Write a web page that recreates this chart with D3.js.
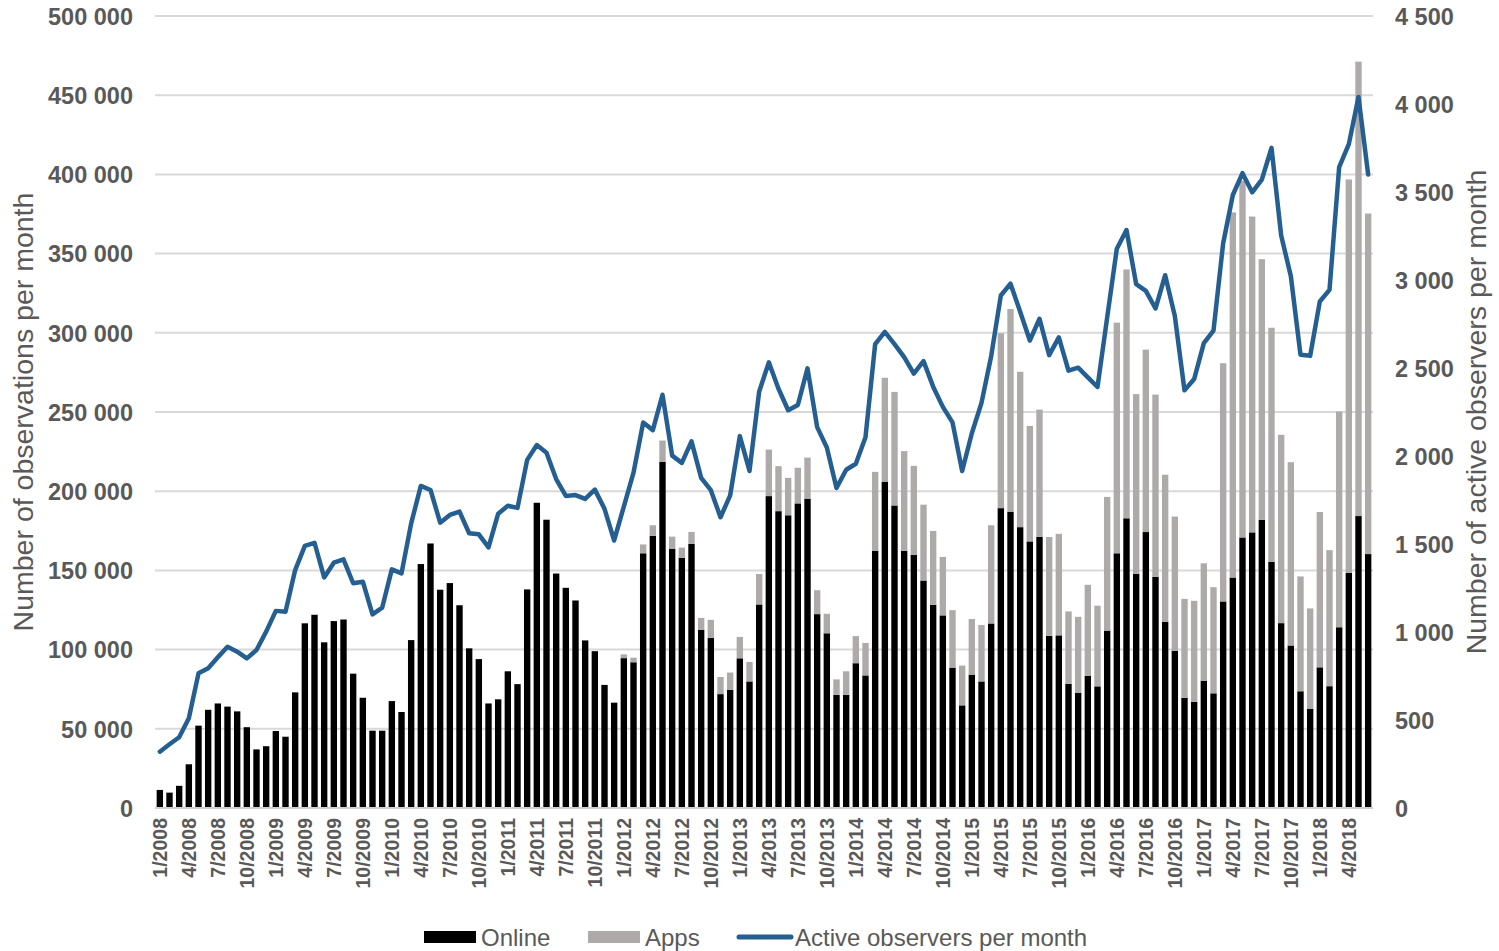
<!DOCTYPE html>
<html>
<head>
<meta charset="utf-8">
<script src="https://cdn.jsdelivr.net/npm/d3@7"></script>
<style>
  body { margin: 0; background: #fff; }
  svg { display: block; font-family: "Liberation Sans", Arial, sans-serif; }
</style>
</head>
<body>
<div id="viz"></div>
<script>
// monthly observations, 1/2008 .. 6/2018
const online = [
  11400, 9700, 14000, 27600, 52000, 62000, 66000, 64000, 61000, 51000, 37000, 39000,
  48600, 45000, 73000, 116600, 122000, 104600, 118000, 119000, 84800, 69600, 48800, 48800,
  67500, 60600, 106000, 154000, 167000, 137800, 142000, 128000, 100800, 94000, 66000, 68600,
  86300, 78200, 138000, 192700, 182000, 148000, 139000, 131000, 105800, 99000, 77700, 66500,
  94600, 92000, 160800, 171800, 218500, 163500, 158000, 166700, 112400, 107300, 71900, 74500,
  94500, 79900, 128500, 196900, 187400, 184800, 192300, 195300, 122400, 110300, 71400, 71400,
  91400, 83700, 162300, 205800, 191000, 162300, 159800, 143600, 128300, 121600, 88600, 64800,
  84200, 79900, 116500, 189300, 187100, 177300, 168300, 171100, 108700, 109000, 78400, 72800,
  83500, 76800, 112000, 160800, 182900, 147900, 174200, 145900, 117600, 99200, 69600, 67000,
  80400, 72400, 130400, 145500, 170800, 174000, 182000, 155400, 116700, 102600, 73700, 62500,
  88800, 76900, 114100, 148400, 184300, 160300
]

const apps = [
  0, 0, 0, 0, 0, 0, 0, 0, 0, 0, 0, 0,
  0, 0, 0, 0, 0, 0, 0, 0, 0, 0, 0, 0,
  0, 0, 0, 0, 0, 0, 0, 0, 0, 0, 0, 0,
  0, 0, 0, 0, 0, 0, 0, 0, 0, 0, 0, 0,
  2400, 2900, 5600, 6700, 13500, 7800, 6400, 7600, 7600, 11500, 10800, 11000,
  13500, 12300, 19200, 29400, 28400, 23600, 22500, 25900, 15100, 12300, 9800, 14900,
  17100, 20500, 49900, 65800, 71700, 63000, 56200, 47900, 46600, 36900, 36300, 25100,
  35100, 35600, 62000, 110400, 127900, 98100, 72900, 80400, 62400, 64100, 45700, 47900,
  57400, 50900, 84400, 145600, 157100, 113400, 115200, 115100, 92800, 84800, 62400, 63800,
  74100, 67000, 150400, 230500, 225200, 199400, 164500, 147800, 118900, 115700, 72500, 63500,
  98100, 85900, 136200, 248400, 286900, 215000
]

const observers = [
  320, 362, 402, 510, 765, 794, 856, 916, 888, 850, 898, 1002,
  1120, 1115, 1352, 1489, 1507, 1310, 1394, 1413, 1277, 1286, 1100, 1138,
  1356, 1333, 1617, 1830, 1807, 1621, 1665, 1684, 1561, 1555, 1481, 1672,
  1717, 1705, 1978, 2062, 2019, 1869, 1773, 1778, 1756, 1809, 1700, 1520,
  1713, 1905, 2190, 2147, 2348, 2002, 1961, 2083, 1876, 1806, 1652, 1776,
  2113, 1915, 2366, 2532, 2382, 2260, 2290, 2498, 2164, 2048, 1818, 1922,
  1956, 2106, 2636, 2705, 2636, 2562, 2468, 2539, 2394, 2279, 2191, 1915,
  2129, 2302, 2567, 2912, 2979, 2820, 2656, 2780, 2573, 2674, 2485, 2502,
  2447, 2392, 2787, 3178, 3284, 2976, 2938, 2838, 3027, 2795, 2373, 2437,
  2641, 2713, 3209, 3483, 3607, 3498, 3570, 3751, 3253, 3022, 2575, 2569,
  2878, 2944, 3642, 3772, 4040, 3599
]

const startYear = 2008
const months = online.map((d, i) => `${i % 12 + 1}/${startYear + Math.floor(i / 12)}`)
const monthTicks = months.filter((d, i) => i % 3 === 0)
const leftTicks = [0, 50000, 100000, 150000, 200000, 250000, 300000, 350000, 400000, 450000, 500000]
const rightTicks = [0, 500, 1000, 1500, 2000, 2500, 3000, 3500, 4000, 4500]

const width = 1499
const height = 951
const plotLeft = 155, plotRight = 1373, plotTop = 16, plotBottom = 808
const textColor = "#595959"

const svg = d3.select("#viz").append("svg")
    .attr("width", width)
    .attr("height", height)

const x = d3.scaleBand().domain(months).range([plotLeft, plotRight]).paddingInner(0.34).paddingOuter(0.17)
const y = d3.scaleLinear().domain([0, 500000]).range([plotBottom, plotTop])
const y2 = d3.scaleLinear().domain([0, 4500]).range([plotBottom, plotTop])

const loc = d3.formatLocale({ decimal: ".", thousands: " ", grouping: [3], currency: ["", ""] })
const fmt = loc.format(",")

// gridlines
svg.append("g").selectAll("line")
    .data(leftTicks.slice(1))
    .enter().append("line")
    .attr("x1", plotLeft).attr("x2", plotRight)
    .attr("y1", d => y(d)).attr("y2", d => y(d))
    .attr("stroke", "#d9d9d9").attr("stroke-width", 2)

// stacked bars
const rows = months.map((m, i) => ({ month: m, online: online[i], apps: apps[i] }))
const stack = d3.stack().keys(["online", "apps"])(rows)
const colors = { online: "#000000", apps: "#aeaaaa" }

svg.append("g").selectAll("g")
    .data(stack)
    .enter().append("g")
    .attr("fill", s => colors[s.key])
    .selectAll("rect")
    .data(s => s)
    .enter().append("rect")
    .attr("x", d => x(d.data.month))
    .attr("width", x.bandwidth())
    .attr("y", d => y(d[1]))
    .attr("height", d => y(d[0]) - y(d[1]))

// baseline
svg.append("line")
    .attr("x1", plotLeft).attr("x2", plotRight)
    .attr("y1", plotBottom).attr("y2", plotBottom)
    .attr("stroke", "#d0d0d0").attr("stroke-width", 2)

// active observers line
const line = d3.line()
    .x((d, i) => x(months[i]) + x.bandwidth() / 2)
    .y(d => y2(d))

svg.append("path")
    .datum(observers)
    .attr("d", line)
    .attr("fill", "none")
    .attr("stroke", "#255e91")
    .attr("stroke-width", 4.5)
    .attr("stroke-linejoin", "round")
    .attr("stroke-linecap", "round")

// axes
const yAxis = svg.append("g")
    .attr("transform", `translate(${plotLeft},0)`)
    .call(d3.axisLeft(y).tickValues(leftTicks).tickFormat(fmt).tickSize(0).tickPadding(22))
const y2Axis = svg.append("g")
    .attr("transform", `translate(${plotRight},0)`)
    .call(d3.axisRight(y2).tickValues(rightTicks).tickFormat(fmt).tickSize(0).tickPadding(22))
const xAxis = svg.append("g")
    .attr("transform", `translate(0,${plotBottom})`)
    .call(d3.axisBottom(x).tickValues(monthTicks).tickSize(0))

for (const ax of [yAxis, y2Axis, xAxis]) {
    ax.select(".domain").remove()
    ax.selectAll("text")
        .attr("fill", textColor)
        .style("font-family", "'Liberation Sans', Arial, sans-serif")
        .style("font-weight", "bold")
}
yAxis.selectAll("text").style("font-size", "23.5px").attr("dy", "0.35em")
y2Axis.selectAll("text").style("font-size", "23.5px").attr("dy", "0.35em")
xAxis.selectAll("text")
    .style("font-size", "19.5px")
    .attr("text-anchor", "end")
    .attr("transform", "rotate(-90)")
    .attr("x", -10)
    .attr("y", 0)
    .attr("dy", "0.36em")

// axis titles
svg.append("text")
    .attr("transform", `translate(33,${(plotTop + plotBottom) / 2}) rotate(-90)`)
    .attr("text-anchor", "middle")
    .attr("fill", textColor)
    .style("font-size", "28.5px")
    .text("Number of observations per month")

svg.append("text")
    .attr("transform", `translate(1486,${(plotTop + plotBottom) / 2}) rotate(-90)`)
    .attr("text-anchor", "middle")
    .attr("fill", textColor)
    .style("font-size", "28.5px")
    .text("Number of active observers per month")

// legend
const legend = svg.append("g").attr("transform", "translate(0,937)")
legend.append("rect").attr("x", 424).attr("y", -6).attr("width", 52).attr("height", 12).attr("fill", colors.online)
legend.append("text").attr("x", 481).attr("y", 9).attr("fill", textColor).style("font-size", "24px").text("Online")
legend.append("rect").attr("x", 588).attr("y", -6).attr("width", 52).attr("height", 12).attr("fill", colors.apps)
legend.append("text").attr("x", 645).attr("y", 9).attr("fill", textColor).style("font-size", "24px").text("Apps")
legend.append("line").attr("x1", 739).attr("x2", 791).attr("y1", 0).attr("y2", 0)
    .attr("stroke", "#255e91").attr("stroke-width", 5).attr("stroke-linecap", "round")
legend.append("text").attr("x", 795).attr("y", 9).attr("fill", textColor).style("font-size", "24px").text("Active observers per month")
</script>
</body>
</html>
